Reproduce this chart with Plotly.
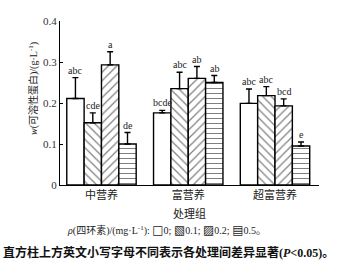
import plotly.graph_objects as go

groups = ["中营养", "富营养", "超富营养"]
conc_labels = ["0", "0.1", "0.2", "0.5"]
vals_0 = [0.211, 0.176, 0.199]
vals_01 = [0.152, 0.235, 0.218]
vals_02 = [0.293, 0.260, 0.193]
vals_05 = [0.100, 0.250, 0.095]
err_0 = [0.051, 0.006, 0.035]
err_01 = [0.024, 0.040, 0.022]
err_02 = [0.032, 0.029, 0.017]
err_05 = [0.028, 0.017, 0.010]
let_0 = ["abc", "bcde", "abc"]
let_01 = ["cde", "abc", "abc"]
let_02 = ["a", "ab", "bcd"]
let_05 = ["de", "ab", "e"]
y_ticks = [0, 0.1, 0.2, 0.3, 0.4]
legend_symbols = ["□", "▧", "▨", "▤"]

series = [(vals_0, err_0, let_0, ""), (vals_01, err_01, let_01, "\\"),
          (vals_02, err_02, let_02, "/"), (vals_05, err_05, let_05, "-")]

SERIF = "Liberation Serif, Times New Roman, Noto Sans CJK SC, serif"
CJK = "Liberation Serif, Noto Sans CJK SC, serif"

L, R, T, B, W, H = 60, 22, 21, 83, 341, 268
pw, ph = W - L - R, H - T - B


def px(x):
    return (x - L) / pw


def py(y):
    return (H - B - y) / ph


fig = go.Figure()
xs = list(range(len(groups)))
n = len(series)
bw = 0.8 / n
annotations = []
for k, (v, e, lab, shape) in enumerate(series):
    fig.add_trace(go.Bar(
        x=xs, y=v, name=conc_labels[k],
        marker=dict(color="white", line=dict(color="black", width=1.4),
                    pattern=dict(shape=shape, fgcolor="black", bgcolor="white",
                                 size=6 if shape != "-" else 5, solidity=0.2)),
        error_y=dict(type="data", array=e, arrayminus=[0] * len(e), symmetric=False,
                     color="black", thickness=1.4, width=3),
        showlegend=False,
    ))
    off = -0.4 + bw * (k + 0.5)
    for i in xs:
        annotations.append(dict(x=i + off, y=v[i] + e[i], xref="x", yref="y",
                                text=lab[i], showarrow=False, yanchor="bottom",
                                font=dict(family=SERIF, size=10, color="#222")))

annotations.append(dict(x=px(33), y=py(89), xref="paper", yref="paper", textangle=-90,
                        xanchor="center", yanchor="middle",
                        text="<i>w</i>(可溶性蛋白)/(g·L<sup>-1</sup>)", showarrow=False,
                        font=dict(family=CJK, size=10, color="#222")))
annotations.append(dict(x=0.5, y=py(213), xref="paper", yref="paper", text="处理组",
                        showarrow=False, yanchor="middle",
                        font=dict(family=CJK, size=11, color="#222")))

sym = lambda s: '<span style="font-family:DejaVu Sans;font-size:12px">' + s + '</span>'
legend_text = "<i>ρ</i>(四环素)/(mg·L<sup>-1</sup>): " + "; ".join(
    sym(s) + c for s, c in zip(legend_symbols, conc_labels)) + "。"
annotations.append(dict(x=px(65), y=py(230), xref="paper", yref="paper",
                        text=legend_text, showarrow=False, xanchor="left", yanchor="middle",
                        font=dict(family=CJK, size=10, color="#222")))
annotations.append(dict(x=px(168), y=py(252), xref="paper", yref="paper",
                        text="<b>直方柱上方英文小写字母不同表示各处理间差异显著(<i>P</i><0.05)。</b>",
                        showarrow=False, xanchor="center", yanchor="middle",
                        font=dict(family=CJK, size=12, color="#111")))

fig.update_layout(
    width=W, height=H, margin=dict(l=L, r=R, t=T, b=B),
    paper_bgcolor="white", plot_bgcolor="white",
    barmode="group", bargap=0.2, bargroupgap=0,
    annotations=annotations,
    xaxis=dict(range=[-0.478, 2.507], tickvals=xs, ticktext=groups, showline=True,
               linecolor="black", linewidth=1, ticks="", showgrid=False, zeroline=False,
               tickfont=dict(family=CJK, size=11, color="#222")),
    yaxis=dict(range=[0, 0.4], tickvals=y_ticks, ticktext=["0", "0.1", "0.2", "0.3", "0.4"],
               showline=True, linecolor="black", linewidth=1, ticks="inside", ticklen=3,
               tickcolor="black", showgrid=False, zeroline=False,
               tickfont=dict(family=SERIF, size=11, color="#333")),
)
fig.write_html("out.html", config={"displayModeBar": False},
               post_script="document.body.style.margin='0';")
